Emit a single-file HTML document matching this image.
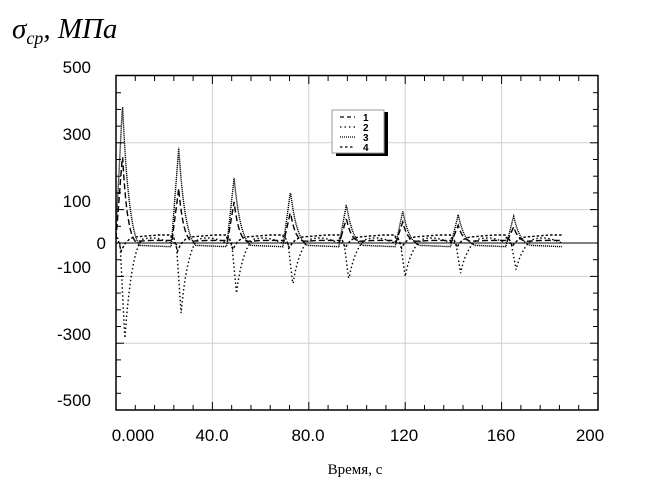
<!DOCTYPE html>
<html><head><meta charset="utf-8"><style>
html,body{margin:0;padding:0;background:#fff;}
svg{display:block;}
</style></head><body>
<svg id="s" width="657" height="504" xmlns="http://www.w3.org/2000/svg" font-family="Liberation Sans, sans-serif">
<text x="12" y="38" font-family="Liberation Serif, serif" font-style="italic" font-size="29">σ<tspan font-size="18" dy="6">cp</tspan><tspan dy="-6">, МПа</tspan></text>
<g id="grid" stroke="#d0d0d0" stroke-width="1"></g>
<g id="ser" fill="none" stroke="#000" stroke-width="1.4"></g>
<line x1="116" y1="243" x2="598" y2="243" stroke="#000" stroke-width="1"/>
<rect x="116" y="75.5" width="482" height="334.5" fill="none" stroke="#000" stroke-width="1.5"/>
<g id="ticks" stroke="#000" stroke-width="1"></g>
<g font-size="17" text-anchor="end" fill="#000">
<text x="91" y="73">500</text><text x="91" y="140">300</text><text x="91" y="207">100</text>
<text x="106" y="249">0</text><text x="91" y="273">-100</text><text x="91" y="340">-300</text><text x="91" y="406">-500</text>
</g>
<g font-size="17" text-anchor="middle" fill="#000">
<text x="133" y="441">0.000</text><text x="212" y="441">40.0</text><text x="308" y="441">80.0</text>
<text x="404" y="441">120</text><text x="501" y="441">160</text><text x="590" y="441">200</text>
</g>
<text x="355" y="474" font-family="Liberation Serif, serif" font-size="15" text-anchor="middle">Время, с</text>
<g>
<rect x="336" y="112" width="52" height="44" fill="#000"/>
<rect x="332" y="110" width="52" height="43" fill="#fff" stroke="#999" stroke-width="1"/>
<g stroke="#000" stroke-width="1.2">
<line x1="340" y1="117" x2="355" y2="117" stroke-dasharray="4,3"/>
<line x1="340" y1="127" x2="355" y2="127" stroke-dasharray="1.5,3"/>
<line x1="340" y1="137" x2="355" y2="137" stroke-dasharray="1,1"/>
<line x1="340" y1="147" x2="355" y2="147" stroke-dasharray="2.5,2.5"/>
</g>
<g font-size="10" font-weight="bold"><text x="363" y="121">1</text><text x="363" y="131">2</text><text x="363" y="141">3</text><text x="363" y="151">4</text></g>
</g>
</svg>
<script>
const X=t=>116+t*2.41, Y=v=>243-v*0.334;
const ns="http://www.w3.org/2000/svg";
function el(p,tag,a){const e=document.createElementNS(ns,tag);for(const k in a)e.setAttribute(k,a[k]);document.getElementById(p).appendChild(e);}
[40,80,120,160].forEach(t=>el('grid','line',{x1:X(t),x2:X(t),y1:76,y2:410}));
[300,100,-100,-300].forEach(v=>el('grid','line',{x1:116,x2:598,y1:Y(v),y2:Y(v)}));
for(let t=8;t<200;t+=8){const m=t%40==0;el('ticks','line',{x1:X(t),x2:X(t),y1:410,y2:410-(m?8:5)});el('ticks','line',{x1:X(t),x2:X(t),y1:76,y2:76+(m?8:5)});}
for(let v=-450;v<500;v+=50){const m=v%100==0&&v%200!=0;el('ticks','line',{x1:116,x2:116+(m?8:5),y1:Y(v),y2:Y(v)});el('ticks','line',{x1:598,x2:598-(m?8:5),y1:Y(v),y2:Y(v)});}
const peaks=[2.7,26,49,72.4,95.6,119,142,165];
const A3=[420,290,200,160,120,100,90,85],A1=[260,160,120,90,70,60,50,45],A2=[-290,-210,-150,-125,-110,-100,-90,-80],A4=[-40,-40,-35,-30,-30,-30,-28,-25];
function pulse(t,p,A,rise,dec){const d=t-p;if(d<-rise||d>dec*2.2)return 0;if(d<0)return A*(1+d/rise);const u=d/(dec*2.2);return A*(1-u)*(1-u*0.3)*Math.exp(-d/dec*0.6);}
function series(A,base,rise,dec,dash,sh){let s='';for(let t=0;t<=185;t+=0.25){let v=base(t);peaks.forEach((p,i)=>{v+=pulse(t,p+sh,A[i],rise,dec)});s+=(s?'L':'M')+X(t).toFixed(1)+','+Y(v).toFixed(1);}el('ser','path',{d:s,'stroke-dasharray':dash});}
function ph(t){let k=0;for(let i=0;i<peaks.length;i++)if(t>=peaks[i]-3)k=i;return t-peaks[k];}
series(A3,t=>-5-Math.max(0,ph(t))*0.3,3,3.2,'1.2,0.8',0);
series(A1,t=>3+Math.min(Math.max(0,ph(t)),12)*0.4,2.8,2.4,'6,3',0);
series(A2,t=>{const d=ph(t);return d>4&&d<20?15*Math.sin(Math.PI*(d-4)/16):0;},2,3.2,'1.5,2.5',1);
series(A4,t=>{const d=Math.max(0,ph(t));return 15+Math.min(d,15)*0.6;},1.5,2.5,'2.5,2',-0.5);
</script>
</body></html>
